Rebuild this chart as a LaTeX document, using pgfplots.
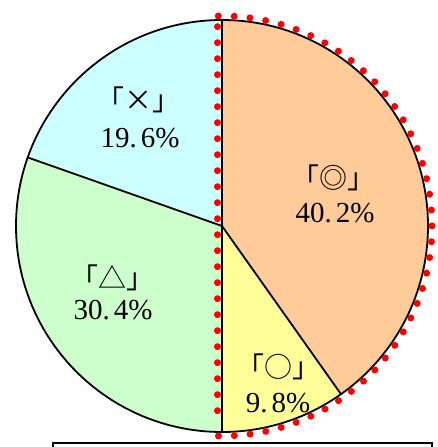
\documentclass[border=0pt]{standalone}
\usepackage{fontspec}
\setmainfont{Liberation Serif}
\newfontfamily\cjk{Noto Sans CJK JP}
\usepackage{pgfplots}
\pgfplotsset{compat=1.18}
\usepackage{pgfplotstable}

\definecolor{sliceA}{HTML}{FFCC99}
\definecolor{sliceB}{HTML}{FFFF99}
\definecolor{sliceC}{HTML}{CCFFCC}
\definecolor{sliceD}{HTML}{CCFFFF}

% share of each answer, clockwise from the top
\pgfplotstableread{
pct
40.2
9.8
30.4
19.6
}\piedata

\begin{document}
\begin{tikzpicture}
\pgfplotstablegetelem{0}{pct}\of\piedata \let\pa\pgfplotsretval
\pgfplotstablegetelem{1}{pct}\of\piedata \let\pb\pgfplotsretval
\pgfplotstablegetelem{2}{pct}\of\piedata \let\pc\pgfplotsretval
\pgfplotstablegetelem{3}{pct}\of\piedata \let\pd\pgfplotsretval
\pgfmathsetmacro\aA{90}
\pgfmathsetmacro\aB{\aA-3.6*\pa}
\pgfmathsetmacro\aC{\aB-3.6*\pb}
\pgfmathsetmacro\aD{\aC-3.6*\pc}
\pgfmathsetmacro\aE{\aD-3.6*\pd}
\def\R{206pt}
\begin{axis}[
    hide axis,
    scale only axis,
    width=437pt,
    height=447pt,
    xmin=0, xmax=437,
    ymin=0, ymax=447,
    clip=false,
]
\fill[sliceA] (axis cs:222,221) -- ++(\aA:\R) arc[start angle=\aA, end angle=\aB, radius=\R] -- cycle;
\fill[sliceB] (axis cs:222,221) -- ++(\aB:\R) arc[start angle=\aB, end angle=\aC, radius=\R] -- cycle;
\fill[sliceC] (axis cs:222,221) -- ++(\aC:\R) arc[start angle=\aC, end angle=\aD, radius=\R] -- cycle;
\fill[sliceD] (axis cs:222,221) -- ++(\aD:\R) arc[start angle=\aD, end angle=\aE, radius=\R] -- cycle;
\draw[line width=1.8pt] (axis cs:222,221) circle[radius=\R];
\draw[line width=1.8pt] (axis cs:222,221) -- ++(\aA:\R);
\draw[line width=1.8pt] (axis cs:222,221) -- ++(\aB:\R);
\draw[line width=1.8pt] (axis cs:222,221) -- ++(\aC:\R);
\draw[line width=1.8pt] (axis cs:222,221) -- ++(\aD:\R);

% red dotted outline of the right half
\draw[red, line width=7pt, line cap=round, dash pattern=on 0pt off 15.88pt]
    (axis cs:222,221) ++(91:210pt) arc[start angle=91, end angle=-91, radius=210pt];
\draw[red, line width=7pt, line cap=round, dash pattern=on 0pt off 16pt]
    (axis cs:217.5,420.3) -- (axis cs:217.5,20.3);

\node[font=\cjk\fontsize{28}{30}\selectfont] at (axis cs:333,269) {「◎」};
\node[font=\fontsize{29}{30}\selectfont] at (axis cs:335,234) {40.\hspace{4pt}2\%};
\node[font=\cjk\fontsize{28}{30}\selectfont] at (axis cs:278,80) {「○」};
\node[font=\fontsize{29}{30}\selectfont] at (axis cs:278,44) {9.\hspace{4pt}8\%};
\node[font=\cjk\fontsize{28}{30}\selectfont] at (axis cs:138,347) {「×」};
\node[font=\fontsize{29}{30}\selectfont] at (axis cs:140,309) {19.\hspace{4pt}6\%};
\node[font=\cjk\fontsize{28}{30}\selectfont] at (axis cs:112,169) {「△」};
\node[font=\fontsize{29}{30}\selectfont] at (axis cs:113,137) {30.\hspace{4pt}4\%};

\draw[line width=1.8pt] (axis cs:53,0) -- (axis cs:53,4) -- (axis cs:432,4) -- (axis cs:432,0);
\end{axis}
\pgfresetboundingbox
\path (0,0) rectangle (437pt,447pt);
\end{tikzpicture}
\end{document}
